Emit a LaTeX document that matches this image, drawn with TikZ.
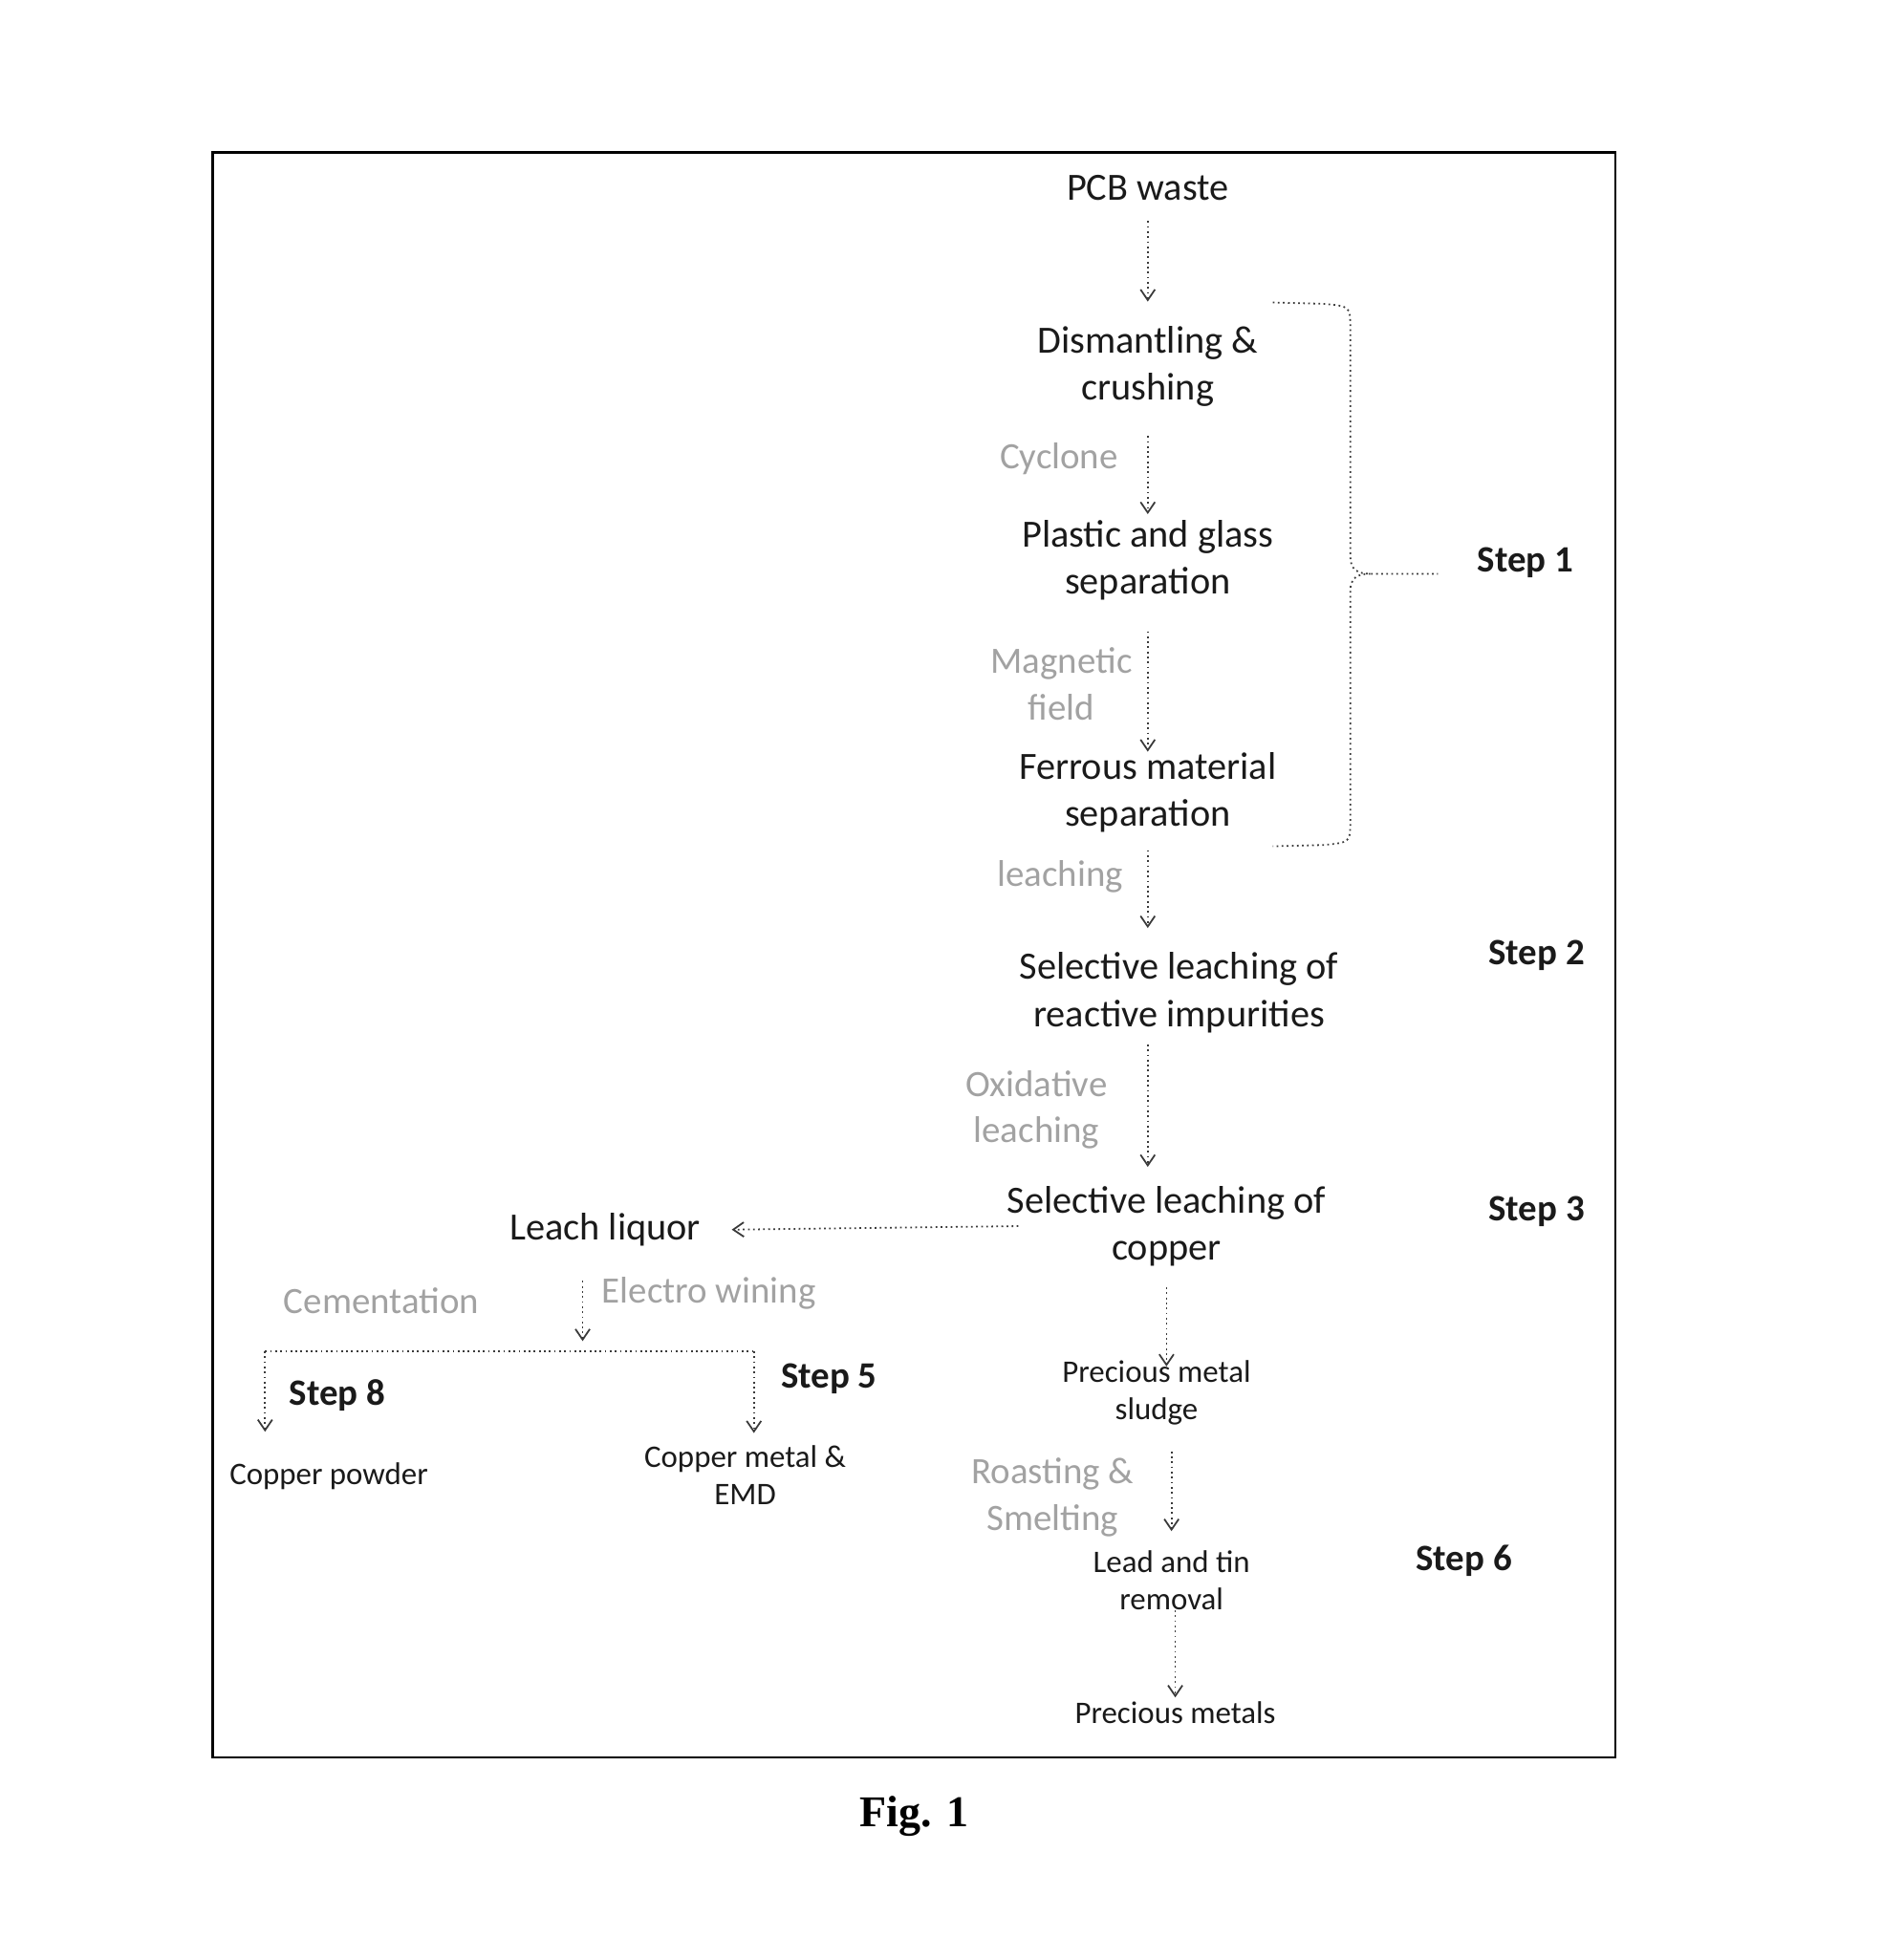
\documentclass[tikz,border=0pt]{standalone}
\usepackage{fontspec}
\setmainfont{Carlito}
\newfontfamily\figfont{Liberation Serif}
\usepackage{tikz}
\usetikzlibrary{
  arrows.meta,
  positioning,
  calc
}
\definecolor{pcText}{HTML}{1A1A1A}
\definecolor{pcOp}{HTML}{A2A2A2}
\definecolor{pcLine}{HTML}{3A3A3A}
\tikzset{
  stage/.style={
    inner sep=0pt, align=center, text=pcText,
    font=\fontsize{11.4pt}{14pt}\selectfont
  },
  product/.style={stage, font=\fontsize{9.3pt}{11pt}\selectfont},
  oplabel/.style={stage, text=pcOp, font=\fontsize{11pt}{13.7pt}\selectfont},
  steplabel/.style={inner sep=0pt, text=pcText, font=\fontsize{11pt}{13pt}\selectfont\bfseries},
  flow/.style={-{Straight Barb[length=1.1mm, width=1.5mm]}, densely dotted, line width=0.5pt, pcLine},
  flowline/.style={densely dotted, line width=0.5pt, pcLine},
  frame/.style={line width=0.7pt, black},
  figlabel/.style={inner sep=0pt, font=\figfont\fontsize{13pt}{15pt}\selectfont\bfseries}
}

\begin{document}
\begin{tikzpicture}[x=0.013cm, y=-0.013cm]
  \useasboundingbox (0,0) rectangle (1506,1568);
  \draw[frame] (170,122) rectangle (1292,1406);

  % main line of stages
  \node[stage] (pcb) at (918,150) {PCB waste};
  \node[stage] (dis) at (918,293) {Dismantling \&\\crushing};
  \node[stage] (plas) at (918,448) {Plastic and glass\\separation};
  \node[stage] (fer) at (918,634) {Ferrous material\\separation};
  \node[stage] (sel1) at (943,794) {Selective leaching of\\reactive impurities};
  \node[stage] (sel2) at (933,981) {Selective leaching of\\copper};
  \node[stage] (liquor) at (484,984) {Leach liquor};
  \node[product] (powder) at (263,1181) {Copper powder};
  \node[product] (cumetal) at (596,1180) {Copper metal \&\\EMD};
  \node[product] (sludge) at (925,1114) {Precious metal\\sludge};
  \node[product] (lead) at (937,1264) {Lead and tin\\removal};
  \node[product] (precious) at (940,1370) {Precious metals};

  % operations
  \node[oplabel] (cyclone) at (847,367) {Cyclone};
  \node[oplabel] (magnet) at (849,547) {Magnetic\\field};
  \node[oplabel] (leach) at (848,701) {leaching};
  \node[oplabel] (oxid) at (829,888) {Oxidative\\leaching};
  \node[oplabel] (cement) at (305,1041) {Cementation};
  \node[oplabel] (ewin) at (567,1035) {Electro wining};
  \node[oplabel] (roast) at (842,1198) {Roasting \&\\Smelting};

  % steps
  \node[steplabel] (s1) at (1220,450) {Step 1};
  \node[steplabel] (s2) at (1229,764) {Step 2};
  \node[steplabel] (s3) at (1229,969) {Step 3};
  \node[steplabel] (s5) at (663,1103) {Step 5};
  \node[steplabel] (s6) at (1171,1249) {Step 6};
  \node[steplabel] (s8) at (270,1116) {Step 8};

  \coordinate (split) at (466,1081);
  \coordinate (splitL) at (212,1081);
  \coordinate (splitR) at (603,1081);
  \coordinate (btop) at (1018,242);
  \coordinate (bbot) at (1018,677);
  \coordinate (btip) at (1150,459);

  \draw[flow, shorten <=6pt, shorten >=7pt] (pcb.south) -- (dis.north);
  \draw[flow, shorten <=8.5pt, shorten >=1.5pt] (dis.south) -- (plas.north);
  \draw[flow, shorten <=9pt] (plas.south) -- (fer.north);
  \draw[flow, shorten <=5pt, shorten >=7pt] (fer.south) -- (fer.south |- sel1.north);
  \draw[flow, shorten <=3.3pt, shorten >=5.5pt] (fer.south |- sel1.south) -- (fer.south |- sel2.north);
  \draw[flow, shorten <=-3.5pt, shorten >=9pt] (sel2.west) -- (liquor.east);
  \draw[flow, shorten <=6pt, shorten >=-2pt] (sel2.south) -- (sel2.south |- sludge.north);
  \draw[flow, shorten <=7.7pt, shorten >=5.5pt] (lead.north |- sludge.south) -- (lead.north);
  \draw[flow, shorten >=1pt] (precious.north |- lead.south) -- (precious.north);
  \draw[flow, shorten <=10pt, shorten >=3pt] (split |- liquor.south) -- (split);
  \draw[flowline] (splitL) -- (splitR);
  \draw[flow, shorten >=9pt] (splitL) -- (splitL |- powder.north);
  \draw[flow, shorten >=3.5pt] (splitR) -- (splitR |- cumetal.north);

  % brace for step 1
  \draw[flowline] (btop) -- (1058,243) .. controls (1080,245) .. (1080,262)
    -- (1080,445) .. controls (1080,456) and (1086,459) .. (1096,459) -- (btip);
  \draw[flowline] (1096,459) .. controls (1086,459) and (1080,462) .. (1080,473)
    -- (1080,657) .. controls (1080,674) .. (1058,676) -- (bbot);

  \node[figlabel] (fig) at (731,1453) {Fig. 1};
\end{tikzpicture}
\end{document}
